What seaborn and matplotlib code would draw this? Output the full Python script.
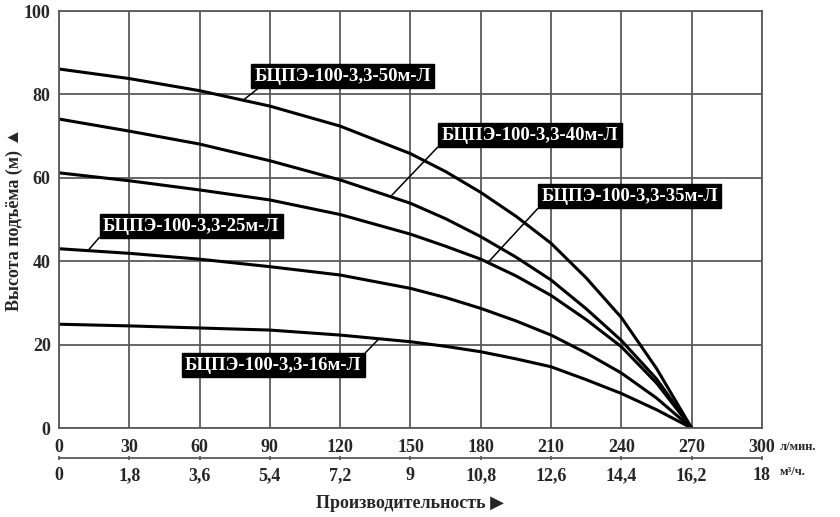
import numpy as np
import pandas as pd
import matplotlib
matplotlib.use("Agg")
import matplotlib.pyplot as plt
import seaborn as sns

# flow in l/min and head in m
flow = [0, 30, 60, 90, 120, 150, 165, 180, 195, 210, 225, 240, 255, 270]
h50 = [86.1, 83.8, 80.9, 77.2, 72.4, 65.8, 61.5, 56.5, 50.8, 44.3, 36, 26.5, 14.3, 0]
h40 = [74.1, 71.2, 68.1, 64.1, 59.5, 53.9, 50.2, 45.9, 41, 35.5, 28.6, 21, 11.8, 0]
h35 = [61.2, 59.3, 57.1, 54.7, 51.2, 46.5, 43.6, 40.5, 36.5, 31.8, 26, 19.5, 10.8, 0]
h25 = [43, 41.9, 40.5, 38.7, 36.7, 33.5, 31.3, 28.7, 25.7, 22.3, 18, 13.2, 7.2, 0]
h16 = [24.9, 24.5, 24, 23.5, 22.3, 20.7, 19.6, 18.3, 16.6, 14.7, 11.6, 8.3, 4.4, 0]

models = ["БЦПЭ-100-3,3-50м-Л", "БЦПЭ-100-3,3-40м-Л", "БЦПЭ-100-3,3-35м-Л",
          "БЦПЭ-100-3,3-25м-Л", "БЦПЭ-100-3,3-16м-Л"]
heads = [h50, h40, h35, h25, h16]

# label box centre and the curve point each leader goes to
label_pos = [(121, 84.4), (201, 70.2), (243.5, 55.6), (56.5, 48.4), (91.5, 15.1)]
leader_to = [(79, 78.8), (142, 55.8), (183.4, 39.9), (12.6, 42.7), (136.2, 21.2)]
leader_from = [(0.05, 0.0), (0.0, 0.05), (0.0, 0.0), (0.0, 0.1), (1.0, 1.0)]

lpm_ticks = [0, 30, 60, 90, 120, 150, 180, 210, 240, 270, 300]
m3h_ticks = [0, 1.8, 3.6, 5.4, 7.2, 9, 10.8, 12.6, 14.4, 16.2, 18]
m3h_labels = ["0", "1,8", "3,6", "5,4", "7,2", "9", "10,8", "12,6", "14,4", "16,2", "18"]

df = pd.concat(
    [pd.DataFrame({"flow": flow, "head": h, "model": m}) for m, h in zip(models, heads)]
)

sns.set_theme(style="white")
plt.rcParams["font.family"] = ["Liberation Serif", "DejaVu Sans"]
plt.rcParams["font.weight"] = "bold"

grid_col = "#5a5a5a"
fig = plt.figure(figsize=(8.4, 5.17), dpi=100)
ax = fig.add_axes([0.0702, 0.172, 0.8369, 0.8067])

sns.lineplot(data=df, x="flow", y="head", hue="model", palette=["black"] * 5,
             linewidth=2.2, legend=False, ax=ax)

ax.set_xlim(0, 300)
ax.set_ylim(0, 100)
ax.set_xticks(lpm_ticks)
ax.set_yticks([0, 20, 40, 60, 80, 100])
ax.grid(True, color=grid_col, linewidth=1.3)
for s in ax.spines.values():
    s.set_color(grid_col)
    s.set_linewidth(1.3)
ax.tick_params(axis="both", length=0, labelsize=13)
ax.tick_params(axis="x", pad=8)
ax.tick_params(axis="y", pad=6)
for t in ax.get_xticklabels() + ax.get_yticklabels():
    t.set_fontweight("bold")

ax.set_xlabel("")
ax.set_ylabel("Высота подъёма (м) ▲", fontsize=13, fontweight="bold", va="center")
ax.yaxis.set_label_coords(-0.064, 0.5)

sec = ax.secondary_xaxis(-0.072, functions=(lambda q: q * 0.06, lambda q: q / 0.06))
sec.set_xticks(m3h_ticks, labels=m3h_labels)
sec.spines["bottom"].set_color(grid_col)
sec.spines["bottom"].set_linewidth(1.3)
sec.tick_params(axis="x", length=3, direction="inout", color=grid_col, labelsize=13, pad=5)
for t in sec.get_xticklabels():
    t.set_fontweight("bold")
sec.set_xlabel("Производительность ▶", fontsize=13, fontweight="bold", labelpad=8)

fig.text(0.928, 0.135, "л/мин.", fontsize=9, fontweight="bold", va="center")
fig.text(0.928, 0.087, "м³/ч.", fontsize=9, fontweight="bold", va="center")

for m, pos, tgt, rp in zip(models, label_pos, leader_to, leader_from):
    ax.annotate(
        m, xy=tgt, xytext=pos, ha="center", va="center",
        color="white", fontsize=13.5, fontweight="bold",
        bbox=dict(boxstyle="square,pad=0.18", fc="black", ec="black"),
        arrowprops=dict(arrowstyle="-", color="black", lw=1.1,
                        relpos=rp, shrinkA=0, shrinkB=0),
    )

fig.savefig("out.png", dpi=100)
